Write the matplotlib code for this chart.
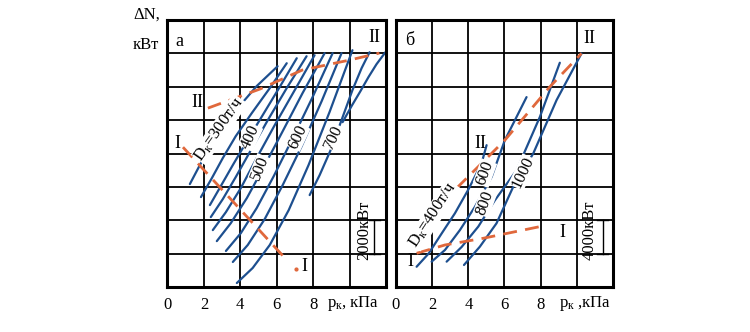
import matplotlib
matplotlib.use("Agg")
import matplotlib.pyplot as plt

plt.rcParams['font.family'] = ['Liberation Serif', 'DejaVu Serif']
plt.rcParams['mathtext.fontset'] = 'custom'
plt.rcParams['mathtext.rm'] = 'Liberation Serif'
plt.rcParams['mathtext.it'] = 'Liberation Serif:italic'

BLUE = "#1d4f8f"
ORANGE = "#e0683c"

# ---- panel a: p_k (kPa) vs dN (kW), one curve per steam flow D_k ----
a_x = [
    [1.23, 1.78, 2.33, 2.99, 3.86, 4.90, 6.05],
    [1.84, 2.44, 3.04, 3.75, 4.63, 5.62, 6.55],
    [2.33, 2.93, 3.59, 4.36, 5.23, 6.16, 7.10],
    [2.38, 3.04, 3.75, 4.58, 5.51, 6.55, 7.64],
    [2.49, 3.21, 4.03, 4.90, 5.89, 6.99, 8.08],
    [2.71, 3.48, 4.36, 5.29, 6.33, 7.42, 8.63],
    [3.21, 4.03, 4.90, 5.84, 6.88, 7.97, 9.07],
    [3.59, 4.41, 5.34, 6.33, 7.37, 8.47, 9.56],
    [3.81, 4.68, 5.62, 6.66, 7.75, 8.90, 10.16],
    [7.81, 8.36, 8.96, 9.56, 10.16, 10.66, 11.10],
    [9.62, 10.11, 10.60, 11.04, 11.48, 11.97],
]
a_y = [
    [6170, 7310, 8320, 9520, 10720, 12040, 13230],
    [5390, 6530, 7730, 9040, 10420, 11920, 13410],
    [4910, 6050, 7310, 8740, 10300, 11980, 13710],
    [4190, 5270, 6590, 8200, 10000, 11920, 13830],
    [3410, 4490, 5930, 7730, 9700, 11800, 13890],
    [2750, 3830, 5330, 7190, 9340, 11620, 14010],
    [2160, 3230, 4730, 6650, 8920, 11380, 14010],
    [1500, 2520, 4070, 6110, 8440, 11140, 14010],
    [240, 1140, 2520, 4610, 7310, 10480, 14190],
    [5510, 6710, 8200, 10000, 11800, 13110, 14070],
    [9880, 10840, 11740, 12580, 13350, 14070],
]
a_line1_x = [0.85, 6.55]
a_line1_y = [8380, 1620]
a_line2_x = [2.22, 5.07, 7.40, 10.0, 11.64]
a_line2_y = [10720, 11860, 13000, 13600, 14020]
a_labels = ["D$_{\\mathrm{к}}$=300т/ч", "400", "500", "600", "700"]
a_label_x = [2.85, 4.55, 5.1, 7.15, 9.1]
a_label_y = [9450, 9000, 7130, 9000, 9000]
a_label_rot = [55, 65, 68, 65, 65]

# ---- panel b ----
b_x = [
    [1.14, 1.80, 2.52, 3.26, 3.98, 4.73, 5.01],
    [1.97, 2.71, 3.54, 4.36, 5.29, 6.02, 7.22],
    [2.80, 3.63, 4.55, 5.47, 6.67, 7.96, 9.06],
    [3.76, 4.64, 5.56, 6.48, 7.59, 8.88, 10.26],
]
b_y = [
    [2430, 4000, 6400, 8840, 11600, 14800, 17000],
    [3040, 4440, 6840, 9600, 13200, 17600, 22760],
    [3040, 4800, 7240, 10400, 14000, 20400, 26880],
    [2640, 4840, 7640, 12000, 16000, 22400, 28000],
]
b_line1_x = [1.14, 2.71, 4.82, 7.96]
b_line1_y = [4040, 5040, 5840, 7240]
b_line2_x = [3.35, 6.02, 8.51, 10.26]
b_line2_y = [11840, 17600, 24000, 28000]
b_labels = ["D$_{\\mathrm{к}}$=400т/ч", "600", "800", "1000"]
b_label_x = [2.06, 4.92, 4.92, 7.02]
b_label_y = [8620, 13650, 10060, 13770]
b_label_rot = [57, 70, 70, 65]

xticks = [0, 2, 4, 6, 8, 10, 12]
xticklabels = ["0", "2", "4", "6", "8", "", ""]

fig = plt.figure(figsize=(7.5, 3.32), dpi=100)
ax_a = fig.add_axes([0.2233, 0.1355, 0.2913, 0.8042])
ax_b = fig.add_axes([0.528, 0.1355, 0.2893, 0.8042])


def setup(ax, cell):
    ax.set_xlim(0, 12)
    ax.set_ylim(0, 8 * cell)
    ax.set_xticks(xticks)
    ax.set_xticklabels(xticklabels, fontsize=12)
    ax.set_yticks([cell * i for i in range(9)])
    ax.set_yticklabels([])
    ax.tick_params(length=0, pad=7)
    ax.grid(True, color="black", lw=1.3)
    ax.set_axisbelow(True)
    for s in ax.spines.values():
        s.set_linewidth(2.2)


def draw(ax, xs, ys, l1x, l1y, l2x, l2y, labels, lx, ly, lrot):
    for x, y in zip(xs, ys):
        ax.plot(x, y, color=BLUE, lw=1.6, solid_capstyle="round",
                solid_joinstyle="round")
    for x, y in [(l1x, l1y), (l2x, l2y)]:
        ax.plot(x, y, color=ORANGE, lw=2, dashes=(5, 3))
    for t, x, y, r in zip(labels, lx, ly, lrot):
        ax.text(x, y, t, rotation=r, fontsize=12, ha="center", va="center",
                rotation_mode="anchor",
                bbox=dict(facecolor="white", edgecolor="none", pad=0.2))


setup(ax_a, 2000)
setup(ax_b, 4000)
draw(ax_a, a_x, a_y, a_line1_x, a_line1_y, a_line2_x, a_line2_y,
     a_labels, a_label_x, a_label_y, a_label_rot)
draw(ax_b, b_x, b_y, b_line1_x, b_line1_y, b_line2_x, b_line2_y,
     b_labels, b_label_x, b_label_y, b_label_rot)

# end dot of line I on panel a
ax_a.plot([7.04], [1080], "o", color=ORANGE, ms=2)

# roman numerals and panel letters
ax_a.text(0.68, 14700, "а", fontsize=13, ha="center", va="center")
ax_a.text(1.67, 11080, "II", fontsize=13, ha="center", va="center")
ax_a.text(0.52, 8620, "I", fontsize=13, ha="center", va="center")
ax_a.text(7.53, 1200, "I", fontsize=13, ha="center", va="center")
ax_a.text(11.37, 14970, "II", fontsize=13, ha="center", va="center")
ax_b.text(0.77, 29600, "б", fontsize=13, ha="center", va="center")
ax_b.text(4.64, 17250, "II", fontsize=13, ha="center", va="center")
ax_b.text(0.77, 3000, "I", fontsize=13, ha="center", va="center")
ax_b.text(9.23, 6590, "I", fontsize=13, ha="center", va="center")
ax_b.text(10.72, 29830, "II", fontsize=13, ha="center", va="center")

# scale bars
for ax, xb, y0, y1, xt, txt in [(ax_a, 11.37, 2000, 4000, 10.82, "2000кВт"),
                                 (ax_b, 11.44, 4000, 8000, 10.72, "4000кВт")]:
    ax.plot([xb, xb], [y0, y1], color="black", lw=1)
    ax.plot([xb - 0.3, xb + 0.3], [y0, y0], color="black", lw=1)
    ax.plot([xb - 0.3, xb + 0.3], [y1, y1], color="black", lw=1)
    ax.text(xt, (y0 + y1) / 2 + 0.2 * (y1 - y0), txt, rotation=90, fontsize=12,
            ha="center", va="center")

# axis captions
fig.text(0.195, 0.955, "ΔN,", fontsize=12, ha="center", va="center")
fig.text(0.195, 0.865, "кВт", fontsize=12, ha="center", va="center")
ax_a.text(10.2, -0.06, "p$_{\\mathrm{к}}$, кПа", fontsize=12, ha="center", va="center",
          transform=ax_a.get_xaxis_transform())
ax_b.text(10.45, -0.06, "p$_{\\mathrm{к}}$ ,кПа", fontsize=12, ha="center", va="center",
          transform=ax_b.get_xaxis_transform())

fig.savefig("out.png", dpi=100, facecolor="white")
